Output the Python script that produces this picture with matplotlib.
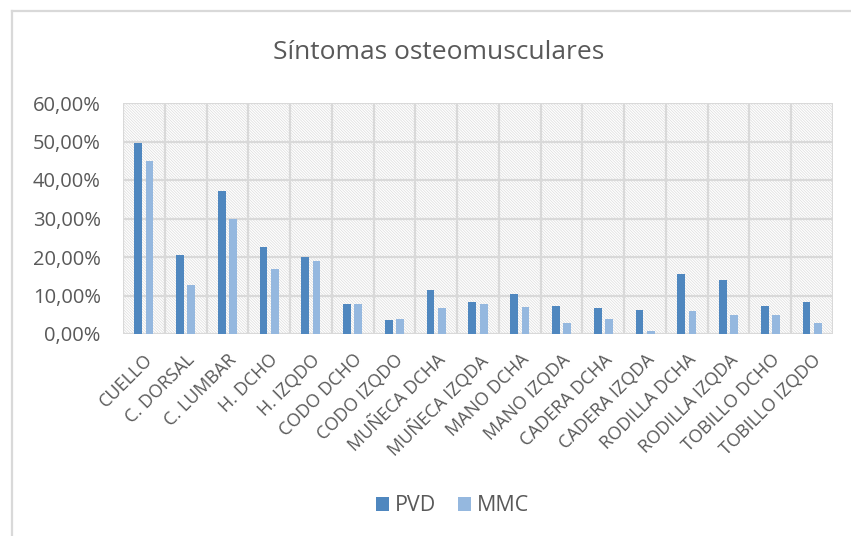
import matplotlib.pyplot as plt
import matplotlib.ticker as mticker
from matplotlib.patches import Rectangle
from matplotlib.lines import Line2D
import numpy as np

categories = ['CUELLO', 'C. DORSAL', 'C. LUMBAR', 'H. DCHO', 'H. IZQDO', 'CODO DCHO',
              'CODO IZQDO', 'MUÑECA DCHA', 'MUÑECA IZQDA', 'MANO DCHA', 'MANO IZQDA',
              'CADERA DCHA', 'CADERA IZQDA', 'RODILLA DCHA', 'RODILLA IZQDA',
              'TOBILLO DCHO', 'TOBILLO IZQDO']
pvd = [49.6, 20.4, 37.2, 22.6, 20.0, 7.8, 3.7, 11.4, 8.4, 10.4, 7.4, 6.8, 6.3, 15.5, 14.1, 7.4, 8.2]
mmc = [45.0, 12.8, 30.0, 17.0, 19.0, 7.9, 3.9, 6.7, 7.9, 6.9, 2.9, 3.9, 0.9, 5.9, 4.9, 4.9, 2.9]
series_names = ['PVD', 'MMC']

plt.rcParams['font.family'] = ['Open Sans', 'DejaVu Sans']
plt.rcParams['hatch.linewidth'] = 0.5
plt.rcParams['hatch.color'] = '#dcdcdc'
grey = '#595959'
grid_col = '#d9d9d9'

fig = plt.figure(figsize=(8.51, 5.36), dpi=100)

# chart border (top and left edges visible in the crop)
fig.add_artist(Line2D([12 / 851, 1], [1 - 11 / 536] * 2, transform=fig.transFigure,
                      color=grid_col, lw=1.6))
fig.add_artist(Line2D([12 / 851] * 2, [0, 1 - 11 / 536], transform=fig.transFigure,
                      color=grid_col, lw=1.6))

ax = fig.add_axes([123 / 851, 1 - 334 / 536, 710 / 851, 231 / 536])

n = len(categories)
x = np.arange(n)
w = 0.185

# hatched background
ax.add_patch(Rectangle((0, 0), 1, 1, transform=ax.transAxes, facecolor='white',
                       edgecolor='#dcdcdc', hatch='\\' * 12, linewidth=0, zorder=0))

ax.bar(x - 0.135, pvd, w, color='#4f87bf', label=series_names[0], zorder=3)
ax.bar(x + 0.135, mmc, w, color='#95b8df', label=series_names[1], zorder=3)

ax.set_xlim(-0.5, n - 0.5)
ax.set_ylim(0, 60)
ax.yaxis.set_major_locator(mticker.MultipleLocator(10))
ax.yaxis.set_major_formatter(mticker.FuncFormatter(lambda v, p: f'{v:.2f}%'.replace('.', ',')))

# grid: horizontal at ticks, vertical at category boundaries
for yv in range(0, 61, 10):
    ax.axhline(yv, color=grid_col, lw=1.6, zorder=1)
for xv in np.arange(-0.5, n, 1):
    ax.axvline(xv, color=grid_col, lw=1.6, zorder=1)

for s in ax.spines.values():
    s.set_visible(False)
ax.tick_params(axis='both', length=0, colors=grey)
ax.tick_params(axis='y', pad=16, labelsize=14.5)
ax.set_xticks(x)
ax.set_xticklabels(categories, rotation=45, ha='right', rotation_mode='anchor')
ax.tick_params(axis='x', pad=12, labelsize=13)

fig.text(0.515, 0.902, 'Síntomas osteomusculares', ha='center', va='center',
         fontsize=19, color=grey)

leg = fig.legend(loc='center', bbox_to_anchor=(0.532, 0.056), ncol=2, frameon=False,
                 fontsize=15.5, handlelength=0.6, handleheight=0.6, columnspacing=1.0,
                 handletextpad=0.3)
for t in leg.get_texts():
    t.set_color(grey)

fig.savefig('out.png', dpi=100)
